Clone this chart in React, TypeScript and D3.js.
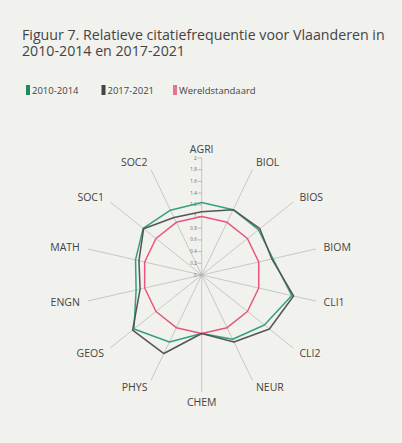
import * as d3 from 'd3';
import React, { useEffect, useRef } from 'react';

const axes = ['AGRI', 'BIOL', 'BIOS', 'BIOM', 'CLI1', 'CLI2', 'NEUR', 'CHEM', 'PHYS', 'GEOS', 'ENGN', 'MATH', 'SOC1', 'SOC2'];
const period1 = [1.24, 1.24, 1.24, 1.25, 1.58, 1.37, 1.22, 1.0, 1.27, 1.48, 1.15, 1.16, 1.28, 1.23]; // 2010-2014
const period2 = [1.08, 1.24, 1.27, 1.23, 1.61, 1.48, 1.27, 1.0, 1.49, 1.51, 1.08, 1.1, 1.27, 1.09]; // 2017-2021
const world = [1, 1, 1, 1, 1, 1, 1, 1, 1, 1, 1, 1, 1, 1];
const radialTicks = [0, 0.2, 0.4, 0.6, 0.8, 1, 1.2, 1.4, 1.6, 1.8, 2];
const seriesNames = ['2010-2014', '2017-2021', 'Wereldstandaard'];
const seriesColors = ['#35a07f', '#555555', '#e8557f'];
const legendColors = ['#1f8a5e', '#444444', '#e8728f'];

const App: React.FC = () => {
  const svgRef = useRef<SVGSVGElement | null>(null);

  useEffect(() => {
    const width = 402;
    const height = 443;
    const cx = 201.7;
    const cy = 275;
    const svg = d3.select(svgRef.current);
    svg.selectAll('*').remove();
    svg.attr('width', width).attr('height', height);

    svg.append('rect').attr('width', width).attr('height', height).attr('fill', '#f1f1ed');

    // titel
    const titleLines = ['Figuur 7. Relatieve citatiefrequentie voor Vlaanderen in', '2010-2014 en 2017-2021'];
    svg
      .selectAll('text.title')
      .data(titleLines)
      .join('text')
      .attr('class', 'title')
      .attr('x', 22)
      .attr('y', (_, i) => 39.5 + i * 16.5)
      .attr('font-family', 'Open Sans, sans-serif')
      .attr('font-size', 14.2)
      .attr('fill', '#444')
      .text((d) => d);

    // legende
    const legendX = [26, 101.5, 173];
    const legend = svg.append('g');
    seriesNames.forEach((name, i) => {
      legend
        .append('rect')
        .attr('x', legendX[i])
        .attr('y', 85)
        .attr('width', 4)
        .attr('height', 10)
        .attr('fill', legendColors[i]);
      legend
        .append('text')
        .attr('x', legendX[i] + 6)
        .attr('y', 93.5)
        .attr('font-family', 'Open Sans, sans-serif')
        .attr('font-size', 9.5)
        .attr('fill', '#444')
        .text(name);
    });

    const r = d3.scaleLinear().domain([0, 2]).range([0, 117]);
    const angle = d3
      .scaleLinear()
      .domain([0, axes.length])
      .range([0, 2 * Math.PI]);

    const g = svg.append('g').attr('transform', `translate(${cx},${cy})`);

    // spaken
    g.selectAll('line.spoke')
      .data(axes)
      .join('line')
      .attr('class', 'spoke')
      .attr('x1', 0)
      .attr('y1', 0)
      .attr('x2', (_, i) => Math.sin(angle(i)) * r(2))
      .attr('y2', (_, i) => -Math.cos(angle(i)) * r(2))
      .attr('stroke', '#b5b5b2')
      .attr('stroke-width', 0.7);

    // as-labels
    g.selectAll('text.axis')
      .data(axes)
      .join('text')
      .attr('class', 'axis')
      .attr('x', (_, i) => Math.sin(angle(i)) * 125)
      .attr('y', (_, i) => -Math.cos(angle(i)) * 125)
      .attr('dy', (_, i) => {
        const c = Math.cos(angle(i));
        if (c > 0.99) return '0.3em';
        if (c < -0.99) return '0.6em';
        return '0.35em';
      })
      .attr('text-anchor', (_, i) => {
        const s = Math.sin(angle(i));
        if (Math.abs(s) < 0.1) return 'middle';
        return s > 0 ? 'start' : 'end';
      })
      .attr('font-family', 'Open Sans, sans-serif')
      .attr('font-size', 10.5)
      .attr('fill', '#444')
      .text((d) => d);

    // radiale schaal
    const ticks = g.append('g');
    ticks
      .selectAll('line')
      .data(radialTicks)
      .join('line')
      .attr('x1', -4)
      .attr('x2', 0)
      .attr('y1', (d) => -r(d))
      .attr('y2', (d) => -r(d))
      .attr('stroke', '#888')
      .attr('stroke-width', 0.5);
    ticks
      .selectAll('text')
      .data(radialTicks)
      .join('text')
      .attr('x', -5)
      .attr('y', (d) => -r(d))
      .attr('dy', '0.35em')
      .attr('text-anchor', 'end')
      .attr('font-family', 'Open Sans, sans-serif')
      .attr('font-size', 4.5)
      .attr('fill', '#666')
      .text((d) => d3.format('~g')(d));

    const line = d3
      .lineRadial<number>()
      .angle((_, i) => angle(i))
      .radius((d) => r(d))
      .curve(d3.curveLinearClosed);

    const series = [world, period1, period2];
    const colors = [seriesColors[2], seriesColors[0], seriesColors[1]];
    g.selectAll('path.series')
      .data(series)
      .join('path')
      .attr('class', 'series')
      .attr('d', (d) => line(d))
      .attr('fill', 'none')
      .attr('stroke', (_, i) => colors[i])
      .attr('stroke-width', 1.5)
      .attr('stroke-linejoin', 'round');
  }, []);

  return (
    <div style={{ position: 'absolute', left: 0, top: 0 }}>
      <svg ref={svgRef} style={{ display: 'block' }}></svg>
    </div>
  );
};

export default App;
